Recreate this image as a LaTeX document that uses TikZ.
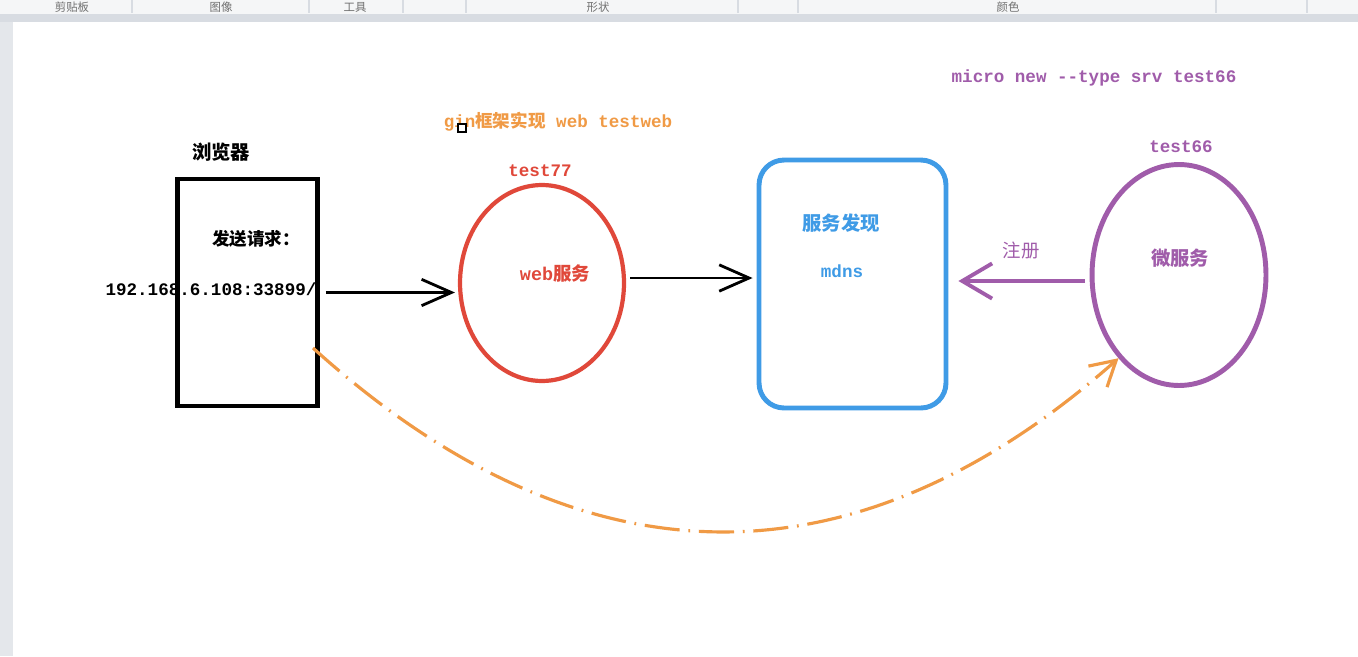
\documentclass[tikz,border=0pt]{standalone}
\usepackage{fontspec}
\setmonofont{Liberation Mono}
\newfontfamily\cjk{Noto Sans CJK SC}
\usetikzlibrary{arrows.meta,shapes.geometric}

\definecolor{webred}{HTML}{E0483A}
\definecolor{mdnsblue}{HTML}{3F9BE6}
\definecolor{srvpurple}{HTML}{A05CAA}
\definecolor{ginorange}{HTML}{F09A45}
\definecolor{barbg}{HTML}{F5F6F7}
\definecolor{barline}{HTML}{D8DCE2}
\definecolor{bartext}{HTML}{707070}

\begin{document}
\begin{tikzpicture}[x=0.02cm, y=-0.02cm,
    oval/.style={ellipse, draw, line width=2.4pt, inner sep=0pt},
    frame/.style={draw, line width=2.8pt, inner sep=0pt},
    flow/.style={-{Straight Barb[length=17pt,width=15pt]}, line width=1.6pt},
    note/.style={font=\cjk\bfseries\fontsize{11}{13}\selectfont, inner sep=1pt},
    code/.style={font=\ttfamily\bfseries\fontsize{10}{12}\selectfont, inner sep=1pt},
    tab/.style={font=\cjk\fontsize{6.5}{7}\selectfont, text=bartext, inner sep=0pt},
    dashcurve/.style={ginorange, line width=1.8pt,
                      dash pattern=on 20pt off 5pt on 1pt off 5pt},
]

    \useasboundingbox (0,0) rectangle (1358,656);
    \fill[white] (0,0) rectangle (1358,656);
    \fill[barbg] (0,0) rectangle (1358,14);
    \fill[barline] (0,14) rectangle (1358,22);
    \fill[barline!70] (0,22) rectangle (13,656);
    \foreach \sx in {132,309,403,466,738,798,1216,1307}
        \draw[barline, line width=0.6pt] (\sx,0) -- (\sx,13);
    \node[tab] (tbclip) at (72,7) {剪贴板};
    \node[tab] (tbimage) at (221,7) {图像};
    \node[tab] (tbtools) at (355,7) {工具};
    \node[tab] (tbshape) at (598,7) {形状};
    \node[tab] (tbcolor) at (1008,7) {颜色};

    \node[frame, minimum width=2.8cm, minimum height=4.54cm] (browser) at (247.5,292.5) {};
    \node[note] (browserlbl) at (221,152) {浏览器};
    \node[note, font=\cjk\bfseries\fontsize{10}{12}\selectfont] (sendlbl) at (256,239) {发送请求：};
    \node[code] (url) at (211,289) {192.168.6.108:33899/};

    \node[oval, draw=webred, minimum width=3.28cm, minimum height=3.92cm] (web) at (542,283) {};
    \node[code, text=webred] (webtop) at (540,171) {test77};
    \node[note, text=webred, font=\cjk\bfseries\fontsize{10.5}{12}\selectfont] (webname) at (555,273) {{\ttfamily web}服务};

    \node[frame, draw=mdnsblue, rounded corners=0.5cm, minimum width=3.74cm, minimum height=4.96cm] (disc) at (852.5,284) {};
    \node[note, text=mdnsblue] (disclbl) at (841,223) {服务发现};
    \node[code, text=mdnsblue] (mdns) at (842,271) {mdns};

    \node[oval, draw=srvpurple, line width=2.8pt, minimum width=3.48cm, minimum height=4.42cm] (micro) at (1179,275) {};
    \node[code, text=srvpurple] (microtop) at (1181,147) {test66};
    \node[note, text=srvpurple] (microlbl) at (1180,258) {微服务};
    \node[code, text=srvpurple] (cmd) at (1094,78) {micro new --type srv test66};

    \node[code, text=ginorange] (gin) at (558,122) {gin{\cjk 框架实现} web testweb};
    \node[draw, fill=white, line width=0.8pt, minimum size=0.16cm, inner sep=0pt] (cursor) at (462,128) {};

    \draw[flow, shorten <=0.12cm, shorten >=0.06cm] (browser.east) -- (browser.east -| web.west);
    \draw[flow, shorten <=0.08cm, shorten >=0.08cm] ([yshift=0.1cm]web.east) -- ([yshift=0.1cm]web.east -| disc.west);
    \draw[flow, srvpurple, line width=2.2pt, -{Straight Barb[length=17pt,width=20pt]},
          shorten <=0.09cm, shorten >=0.2cm]
        ([yshift=-0.12cm]micro.west) -- ([yshift=-0.12cm]micro.west -| disc.east);
    \node[note, font=\cjk\fontsize{10.5}{12}\selectfont, text=srvpurple] (reglbl) at (1021,251) {注册};

    \coordinate (curvestart) at (313,348);
    \draw[dashcurve, -{Straight Barb[length=14pt,width=16pt]}]
        (curvestart) .. controls (582,591) and (855,591) .. (micro.234);

\end{tikzpicture}
\end{document}
